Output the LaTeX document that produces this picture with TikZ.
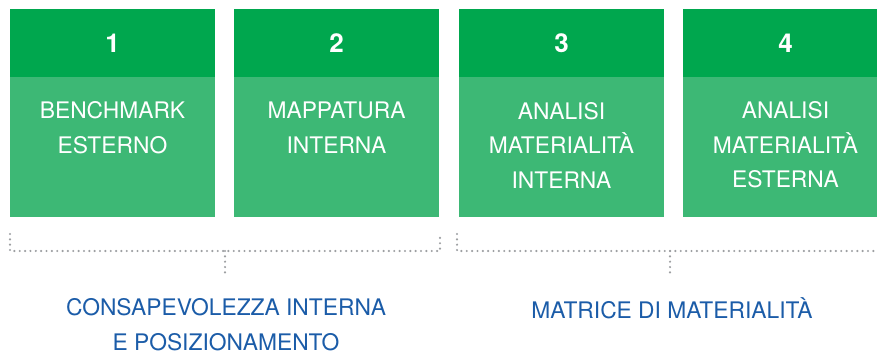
\documentclass[tikz,border=0pt]{standalone}
\usepackage{fontspec}
\setmainfont{TeX Gyre Heros}
\definecolor{hdrgreen}{HTML}{00A74E}
\definecolor{bodygreen}{HTML}{3DB875}
\definecolor{bluetxt}{HTML}{1B5CA8}
\definecolor{dotgray}{HTML}{9D9FA2}
\begin{document}
\begin{tikzpicture}[x=1pt,y=-1pt,
  hdr/.style={fill=hdrgreen,draw=none,minimum width=205pt,minimum height=68pt,inner sep=0pt,
    text=white,font=\fontsize{26}{26}\selectfont\bfseries},
  bodybox/.style={fill=bodygreen,draw=none,minimum width=205pt,minimum height=140pt,inner sep=0pt},
  bodytxt/.style={text=white,align=center,inner sep=0pt,font=\fontsize{22.8}{34.5}\selectfont},
  captxt/.style={text=bluetxt,align=center,inner sep=0pt,font=\fontsize{22.8}{35}\selectfont},
  dotline/.style={draw=dotgray,line width=2.4pt,line cap=round,dash pattern=on 0pt off 5.35pt}
]
\useasboundingbox (0,0) rectangle (877,352);
\clip (0,0) rectangle (877,352);
% boxes
\node[hdr] (h1) at (112.5,43) {1};
\node[bodybox] (b1) at (112.5,147) {};
\node[hdr] (h2) at (336.5,43) {2};
\node[bodybox] (b2) at (336.5,147) {};
\node[hdr] (h3) at (561.5,43) {3};
\node[bodybox] (b3) at (561.5,147) {};
\node[hdr] (h4) at (785.5,43) {4};
\node[bodybox] (b4) at (785.5,147) {};
% body texts
\node[bodytxt] (t1) at (112.5,127.5) {BENCHMARK\\ESTERNO};
\node[bodytxt] (t2) at (336.5,127.5) {MAPPATURA\\INTERNA};
\node[bodytxt] (t3) at (561.5,145) {ANALISI\\MATERIALITÀ\\INTERNA};
\node[bodytxt] (t4) at (785.5,145) {ANALISI\\MATERIALITÀ\\ESTERNA};
% brackets
\coordinate (l1) at (10,234);
\coordinate (l1b) at (10,251);
\coordinate (r1b) at (440,251);
\coordinate (r1) at (440,234);
\coordinate (s1a) at (225,251);
\coordinate (s1b) at (225,273);
\coordinate (l2) at (457,234);
\coordinate (l2b) at (457,251);
\coordinate (r2b) at (880,251);
\coordinate (s2a) at (670,251);
\coordinate (s2b) at (670,273);
\draw[dotline] (l1) -- (l1b) -- (r1b) -- (r1);
\draw[dotline] (s1a) -- (s1b);
\draw[dotline] (l2) -- (l2b) -- (r2b);
\draw[dotline] (s2a) -- (s2b);
% captions
\node[captxt] (c1) at (226,325) {CONSAPEVOLEZZA INTERNA\\E POSIZIONAMENTO};
\node[captxt] (c2) at (672,308) {MATRICE DI MATERIALITÀ};
\end{tikzpicture}
\end{document}
